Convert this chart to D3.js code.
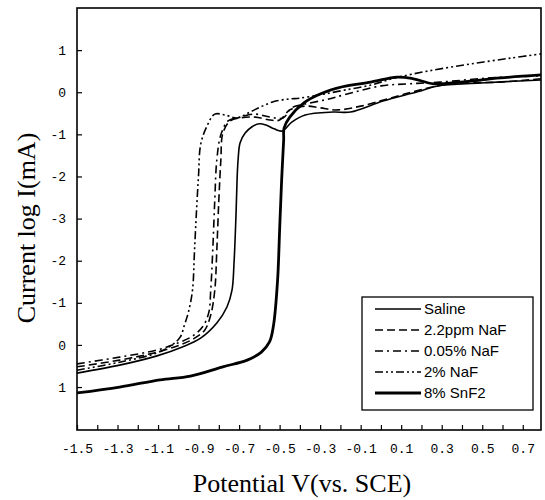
<!DOCTYPE html>
<html>
<head>
<meta charset="utf-8">
<script src="https://cdn.jsdelivr.net/npm/d3@7"></script>
<style>
  body { margin: 0; background: #fff; }
  svg { display: block; }
</style>
</head>
<body>
<div id="chart"></div>
<script>
/* global d3 */

// potential (V vs SCE) , axis position (0..8 -> labels below)
var saline = [
    [-1.50, 0.33], [-1.29, 0.52], [-1.105, 0.74], [-0.98, 0.95], [-0.89, 1.16], [-0.81, 1.52],
    [-0.76, 1.90], [-0.735, 2.30], [-0.725, 2.95], [-0.715, 4.13], [-0.71, 4.92], [-0.705, 5.39],
    [-0.695, 5.80], [-0.67, 6.03], [-0.636, 6.18], [-0.60, 6.25], [-0.567, 6.22], [-0.527, 6.13],
    [-0.488, 6.08], [-0.44, 6.29], [-0.374, 6.46], [-0.236, 6.53], [-0.15, 6.53], [0.01, 6.79],
    [0.18, 7.01], [0.28, 7.15], [0.49, 7.22], [0.79, 7.29]
];
var naf22ppm = [
    [-1.50, 0.48], [-1.29, 0.64], [-1.105, 0.83], [-0.99, 1.00], [-0.92, 1.16], [-0.87, 1.35],
    [-0.84, 1.71], [-0.82, 2.30], [-0.81, 3.25], [-0.80, 4.44], [-0.79, 5.39], [-0.78, 6.03],
    [-0.744, 6.32], [-0.695, 6.39], [-0.62, 6.41], [-0.547, 6.34], [-0.50, 6.34], [-0.45, 6.58],
    [-0.374, 6.67], [-0.30, 6.63], [-0.216, 6.58], [-0.10, 6.67], [0.046, 6.86], [0.19, 7.05],
    [0.34, 7.20], [0.59, 7.24], [0.79, 7.32]
];
var naf005 = [
    [-1.50, 0.55], [-1.29, 0.71], [-1.105, 0.88], [-1.00, 1.05], [-0.93, 1.21], [-0.88, 1.43],
    [-0.85, 1.76], [-0.84, 2.30], [-0.83, 3.25], [-0.82, 4.44], [-0.81, 5.39], [-0.79, 5.99],
    [-0.754, 6.32], [-0.695, 6.41], [-0.62, 6.48], [-0.547, 6.41], [-0.483, 6.39], [-0.44, 6.63],
    [-0.374, 6.72], [-0.275, 6.82], [-0.18, 6.94], [0.00, 7.15], [0.14, 7.20], [0.29, 7.24],
    [0.54, 7.34], [0.79, 7.39]
];
var naf2 = [
    [-1.50, 0.40], [-1.29, 0.59], [-1.105, 0.81], [-1.03, 1.00], [-0.99, 1.19], [-0.97, 1.47],
    [-0.95, 1.78], [-0.93, 2.30], [-0.92, 3.25], [-0.91, 4.20], [-0.90, 5.04], [-0.89, 5.75],
    [-0.86, 6.18], [-0.82, 6.48], [-0.77, 6.46], [-0.71, 6.39], [-0.646, 6.53], [-0.586, 6.67],
    [-0.52, 6.79], [-0.45, 6.84], [-0.40, 6.86], [-0.30, 6.94], [-0.18, 7.05], [-0.05, 7.17],
    [0.07, 7.34], [0.24, 7.51], [0.44, 7.67], [0.64, 7.81], [0.79, 7.91]
];
var snf2 = [
    [-1.50, -0.14], [-1.29, 0.00], [-1.09, 0.17], [-0.94, 0.26], [-0.78, 0.48], [-0.66, 0.64],
    [-0.59, 0.83], [-0.55, 1.07], [-0.53, 1.47], [-0.51, 2.54], [-0.50, 3.73], [-0.49, 4.92],
    [-0.48, 5.87], [-0.478, 6.15], [-0.45, 6.41], [-0.38, 6.75], [-0.30, 6.96], [-0.19, 7.13],
    [-0.05, 7.24], [0.08, 7.36], [0.16, 7.32], [0.26, 7.20], [0.39, 7.24], [0.59, 7.34],
    [0.79, 7.41]
];

var seriesNames = ["Saline", "2.2ppm NaF", "0.05% NaF", "2% NaF", "8% SnF2"];
var xTickLabels = ["-1.5", "-1.3", "-1.1", "-0.9", "-0.7", "-0.5", "-0.3", "-0.1", "0.1", "0.3", "0.5", "0.7"];
var yTickLabels = ["1", "0", "-1", "-2", "-3", "-2", "-1", "0", "1"];

var width = 545;
var height = 500;
var margin = {left: 77, right: 4, top: 8, bottom: 70};

var svg = d3.select("#chart")
    .append("svg")
    .attr("width", width)
    .attr("height", height);

var x = d3.scaleLinear()
    .domain([-1.5, 0.79])
    .range([margin.left, width - margin.right]);

var y = d3.scaleLinear()
    .domain([-1.02, 9.0])
    .range([height - margin.bottom, margin.top]);

// frame
svg.append("rect")
    .attr("x", x.range()[0])
    .attr("y", y.range()[1])
    .attr("width", x.range()[1] - x.range()[0])
    .attr("height", y.range()[0] - y.range()[1])
    .attr("fill", "none")
    .attr("stroke", "#000")
    .attr("stroke-width", 1.6);

// x axis, ticks every 0.1 pointing in, label every second one
var xTicks = d3.range(0, 23).map(i => -1.5 + i * 0.1);

var xAxis = d3.axisBottom(x)
    .tickValues(xTicks)
    .tickSize(-5)
    .tickFormat((d, i) => i % 2 === 0 ? (xTickLabels[i / 2] || "") : "");

var gx = svg.append("g")
    .attr("transform", "translate(0," + y.range()[0] + ")")
    .call(xAxis);
gx.select(".domain").remove();
gx.selectAll("line").attr("stroke", "#000").attr("stroke-width", 1.2);
gx.selectAll("text")
    .attr("y", 14)
    .attr("font-family", "Liberation Mono, monospace")
    .attr("font-size", 13)
    .attr("fill", "#000");

// y axis, position 0..8 with the odd log labels
var yAxis = d3.axisLeft(y)
    .tickValues(d3.range(0, 9))
    .tickSize(-5)
    .tickFormat(d => yTickLabels[d]);

var gy = svg.append("g")
    .attr("transform", "translate(" + x.range()[0] + ",0)")
    .call(yAxis);
gy.select(".domain").remove();
gy.selectAll("line").attr("stroke", "#000").attr("stroke-width", 1.2);
gy.selectAll("text")
    .attr("x", -11)
    .attr("font-family", "Liberation Mono, monospace")
    .attr("font-size", 13)
    .attr("fill", "#000");

// titles
svg.append("text")
    .attr("x", 302)
    .attr("y", 492)
    .attr("text-anchor", "middle")
    .attr("font-family", "Liberation Serif, serif")
    .attr("font-size", 26)
    .text("Potential V(vs. SCE)");

svg.append("text")
    .attr("transform", "translate(35,228) rotate(-90)")
    .attr("text-anchor", "middle")
    .attr("font-family", "Liberation Serif, serif")
    .attr("font-size", 26)
    .text("Current log I(mA)");

// curves
var styles = [
    {data: saline, width: 1.6, dash: null},
    {data: naf22ppm, width: 1.6, dash: "8,4"},
    {data: naf005, width: 1.6, dash: "8,4,2,4"},
    {data: naf2, width: 1.6, dash: "8,3,2,3,2,3"},
    {data: snf2, width: 2.8, dash: null}
];

var line = d3.line()
    .x(d => x(d[0]))
    .y(d => y(d[1]))
    .curve(d3.curveCatmullRom.alpha(0.5));

svg.append("g")
    .selectAll("path")
    .data(styles)
    .join("path")
    .attr("d", d => line(d.data))
    .attr("fill", "none")
    .attr("stroke", "#000")
    .attr("stroke-width", d => d.width)
    .attr("stroke-dasharray", d => d.dash)
    .attr("stroke-linejoin", "round");

// legend
var legend = svg.append("g");

legend.append("rect")
    .attr("x", 362)
    .attr("y", 297)
    .attr("width", 171)
    .attr("height", 113)
    .attr("fill", "#fff")
    .attr("stroke", "#000")
    .attr("stroke-width", 1.3);

var item = legend.selectAll(".item")
    .data(styles)
    .join("g")
    .attr("class", "item")
    .attr("transform", (d, i) => "translate(0," + (309 + i * 21) + ")");

item.append("line")
    .attr("x1", 375)
    .attr("x2", 421)
    .attr("stroke", "#000")
    .attr("stroke-width", d => d.width)
    .attr("stroke-dasharray", d => d.dash);

item.append("text")
    .attr("x", 424)
    .attr("dy", "0.35em")
    .attr("font-family", "Liberation Sans, sans-serif")
    .attr("font-size", 15)
    .text((d, i) => seriesNames[i]);
</script>
</body>
</html>
